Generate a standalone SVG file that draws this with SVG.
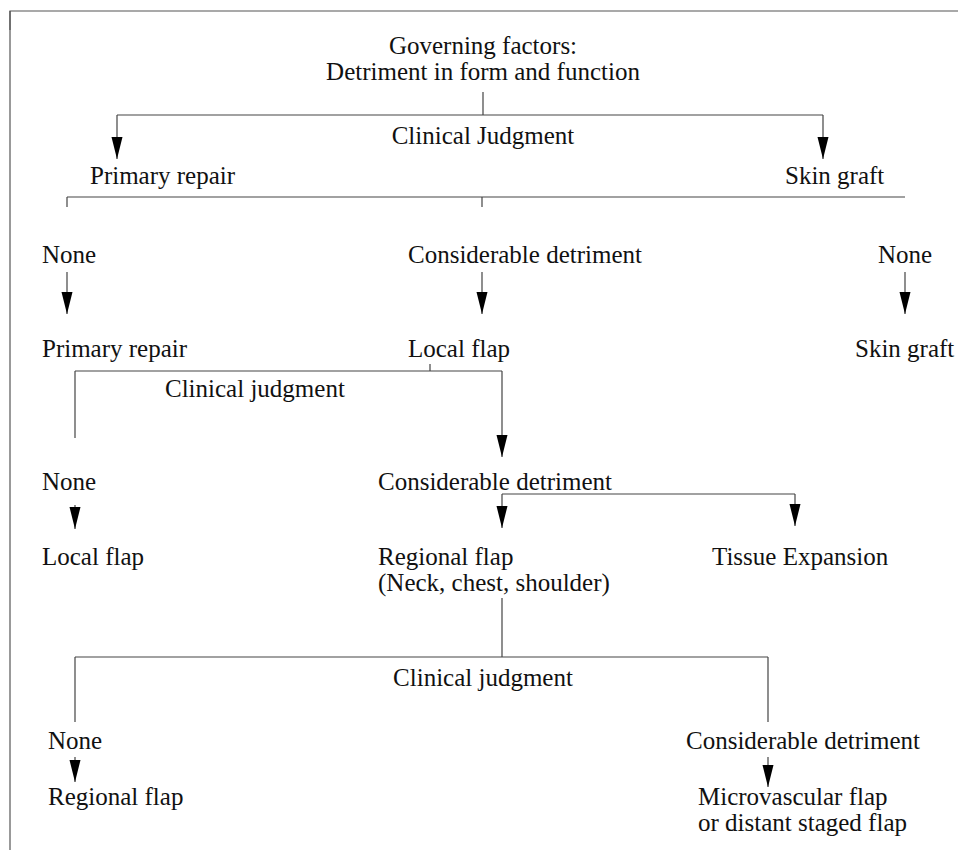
<svg xmlns="http://www.w3.org/2000/svg" width="958" height="854" viewBox="0 0 958 854">
<style>
text{font-family:"Liberation Serif","DejaVu Serif",serif;font-size:25px;fill:#111}
.c{text-anchor:middle}
.ln{stroke:#444;stroke-width:1.2;fill:none}
.bd{stroke:#555;stroke-width:1.2;fill:none}
</style>
<defs>
<marker id="ah" markerUnits="userSpaceOnUse" markerWidth="22" markerHeight="12" viewBox="0 0 22 12" refX="22" refY="6" orient="auto">
<path d="M0,0.5 L22,6 L0,11.5 Z" fill="#000"/>
</marker>
</defs>
<rect width="958" height="854" fill="#fff"/>
<g id="border">
<path class="bd" d="M10,30 V11 H958"/>
<path class="bd" d="M10,11 V850"/>
</g>
<g id="connectors">
<path class="ln" d="M483,92 V115"/>
<path class="ln" d="M117,115 H823"/>
<path class="ln" d="M117,115 V159" marker-end="url(#ah)"/>
<path class="ln" d="M823,115 V159" marker-end="url(#ah)"/>
<path class="ln" d="M67,197 H905"/>
<path class="ln" d="M67,197 V207"/>
<path class="ln" d="M482,197 V207"/>
<path class="ln" d="M67,272 V314" marker-end="url(#ah)"/>
<path class="ln" d="M482,272 V314" marker-end="url(#ah)"/>
<path class="ln" d="M905,272 V314" marker-end="url(#ah)"/>
<path class="ln" d="M430,364 V371"/>
<path class="ln" d="M75,371 H502"/>
<path class="ln" d="M75,371 V438"/>
<path class="ln" d="M502,371 V457" marker-end="url(#ah)"/>
<path class="ln" d="M502,494 H795"/>
<path class="ln" d="M502,494 V528" marker-end="url(#ah)"/>
<path class="ln" d="M795,494 V526" marker-end="url(#ah)"/>
<path class="ln" d="M75,505 V529" marker-end="url(#ah)"/>
<path class="ln" d="M502,598 V657"/>
<path class="ln" d="M75,657 H768"/>
<path class="ln" d="M75,657 V722"/>
<path class="ln" d="M75,757 V782" marker-end="url(#ah)"/>
<path class="ln" d="M768,657 V722"/>
<path class="ln" d="M768,757 V787" marker-end="url(#ah)"/>
</g>
<g id="governing"><text class="c" x="483" y="54">Governing factors:</text><text class="c" x="483" y="80">Detriment in form and function</text></g>
<g id="cj1"><text class="c" x="483" y="144">Clinical Judgment</text></g>
<g id="primary1"><text x="90" y="184">Primary repair</text></g>
<g id="skingraft1"><text x="785" y="184">Skin graft</text></g>
<g id="none1"><text x="42" y="263">None</text></g>
<g id="cd1"><text x="408" y="263">Considerable detriment</text></g>
<g id="none2"><text x="878" y="263">None</text></g>
<g id="primary2"><text x="42" y="357">Primary repair</text></g>
<g id="localflap1"><text x="408" y="357">Local flap</text></g>
<g id="skingraft2"><text x="855" y="357">Skin graft</text></g>
<g id="cj2"><text x="165" y="397">Clinical judgment</text></g>
<g id="none3"><text x="42" y="490">None</text></g>
<g id="cd2"><text x="378" y="490">Considerable detriment</text></g>
<g id="localflap2"><text x="42" y="565">Local flap</text></g>
<g id="regional1"><text x="378" y="565">Regional flap</text><text x="378" y="591">(Neck, chest, shoulder)</text></g>
<g id="tissue"><text x="712" y="565">Tissue Expansion</text></g>
<g id="cj3"><text class="c" x="483" y="686">Clinical judgment</text></g>
<g id="none4"><text x="48" y="749">None</text></g>
<g id="cd3"><text x="686" y="749">Considerable detriment</text></g>
<g id="regional2"><text x="48" y="805">Regional flap</text></g>
<g id="micro"><text x="698" y="805">Microvascular flap</text><text x="698" y="831">or distant staged flap</text></g>
</svg>
